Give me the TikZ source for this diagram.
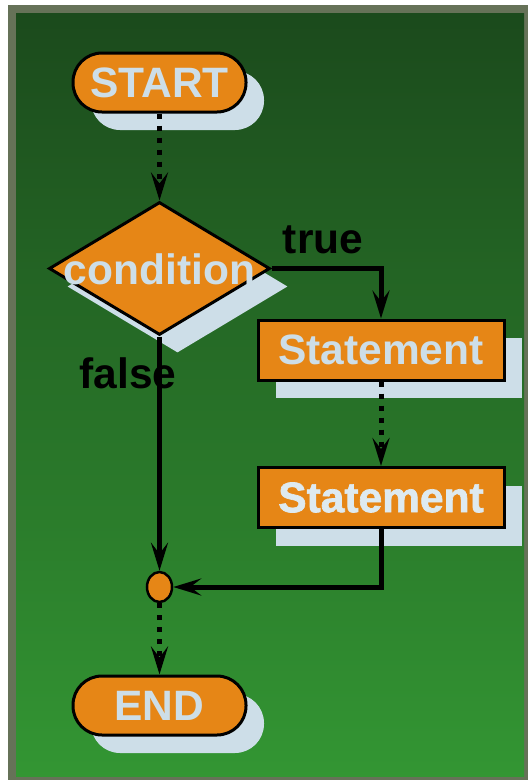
\documentclass[tikz,border=0pt]{standalone}
\usepackage{fontspec}
\setmainfont{Liberation Sans}
\newfontfamily\heavysans[FakeBold=1.6]{Liberation Sans Bold}
\usetikzlibrary{arrows.meta,shapes.geometric,shadows}

\definecolor{framec}{RGB}{102,114,88}
\definecolor{gtop}{RGB}{27,74,28}
\definecolor{gbot}{RGB}{51,150,51}
\definecolor{boxfill}{RGB}{230,134,22}
\definecolor{pale}{RGB}{205,222,232}
\definecolor{glowpale}{RGB}{222,234,240}

\tikzset{
  bigfont/.style={font=\fontsize{42.5}{50}\selectfont\bfseries},
  boxshadow/.style={drop shadow={shadow xshift=18pt, shadow yshift=-18pt, fill=pale, opacity=1, draw=none}},
  terminal/.style={draw=black, line width=3pt, fill=boxfill, rounded corners=29pt,
    minimum width=173pt, minimum height=59pt, inner sep=0pt, text=pale, bigfont, boxshadow},
  process/.style={draw=black, line width=3pt, fill=boxfill,
    minimum width=246pt, minimum height=60pt, inner sep=0pt, text=pale, bigfont, boxshadow},
  decision/.style={diamond, draw=black, line width=3pt, fill=boxfill,
    minimum width=221pt, minimum height=133pt, inner sep=0pt, boxshadow},
  junction/.style={ellipse, draw=black, line width=2.5pt, fill=boxfill,
    minimum width=25pt, minimum height=30pt, inner sep=0pt},
  paletext/.style={text=pale, inner sep=0pt, bigfont},
  heavytext/.style={text=glowpale, inner sep=0pt, font=\fontsize{42.5}{50}\selectfont\heavysans},
  branchlbl/.style={text=black, inner sep=0pt, font=\fontsize{42.5}{50}\selectfont\bfseries},
  flow/.style={line width=5pt, draw=black, -{Stealth[length=28pt,width=17pt,inset=11pt]}},
  dotflow/.style={flow, dash pattern=on 5pt off 7pt}
}

\begin{document}
\begin{tikzpicture}[x=1pt,y=-1pt]
  \useasboundingbox (0,0) rectangle (528,780);
  % frame and green gradient panel
  \fill[framec] (8,5) rectangle (528,780);
  \shade[top color=gtop, bottom color=gbot] (16,13) rectangle (524,776);

  % flowchart shapes
  \node[terminal] (start) at (159.5,82.5) {START};
  \node[decision] (cond) at (159.5,268.5) {};
  \node[paletext] (condtext) at (159.5,269) {condition};
  \node[process] (s1) at (381,350) {Statement};
  \node[process] (s2) at (381,497.5) {};
  \node[heavytext] (s2text) at (s2.center) {Statement};
  \node[junction] (join) at (159.5,587) {};
  \node[terminal] (end) at (159.5,705.5) {END};

  % branch labels
  \node[branchlbl] (truelbl) at (323,240) {true};
  \node[branchlbl] (falselbl) at (128,373) {false};

  % connectors
  \draw[dotflow] (start.south) -- (cond.north);
  \draw[flow] (cond.east) -| (s1.north);
  \draw[dotflow] (s1.south) -- (s2.north);
  \draw[flow] (s2.south) |- (join.east);
  \draw[flow] (cond.south) -- (join.north);
  \draw[dotflow] (join.south) -- (end.north);
\end{tikzpicture}
\end{document}
